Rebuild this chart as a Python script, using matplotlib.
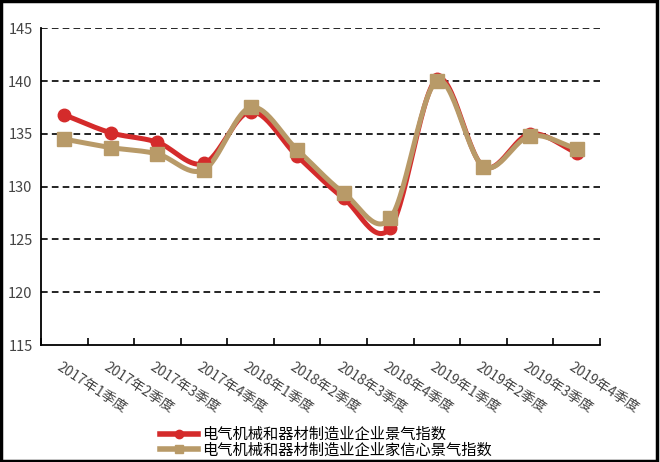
import numpy as np
import matplotlib.pyplot as plt
from matplotlib.lines import Line2D

plt.rcParams['font.family'] = ['Noto Sans CJK SC', 'DejaVu Sans']

quarters = ['2017年1季度', '2017年2季度', '2017年3季度', '2017年4季度',
            '2018年1季度', '2018年2季度', '2018年3季度', '2018年4季度',
            '2019年1季度', '2019年2季度', '2019年3季度', '2019年4季度']
climate = [136.8, 135.1, 134.2, 132.2, 137.1, 132.9, 128.9, 126.1, 140.2, 131.9, 135.0, 133.2]
confidence = [134.5, 133.7, 133.1, 131.6, 137.5, 133.5, 129.4, 127.0, 140.0, 131.9, 134.8, 133.6]
name_climate = '电气机械和器材制造业企业景气指数'
name_confidence = '电气机械和器材制造业企业家信心景气指数'

RED = '#D42B2B'
TAN = '#B89A68'


def smooth(x, y, n=30):
    # Catmull-Rom curve through the points, like Excel's smoothed lines
    x = np.asarray(x, float)
    y = np.asarray(y, float)
    px = np.concatenate([[2 * x[0] - x[1]], x, [2 * x[-1] - x[-2]]])
    py = np.concatenate([[2 * y[0] - y[1]], y, [2 * y[-1] - y[-2]]])
    xs, ys = [], []
    t = np.linspace(0, 1, n)
    for i in range(1, len(px) - 2):
        for p, out in ((px, xs), (py, ys)):
            p0, p1, p2, p3 = p[i - 1], p[i], p[i + 1], p[i + 2]
            out.extend(0.5 * (2 * p1 + (-p0 + p2) * t
                              + (2 * p0 - 5 * p1 + 4 * p2 - p3) * t ** 2
                              + (-p0 + 3 * p1 - 3 * p2 + p3) * t ** 3))
    return xs, ys


fig = plt.figure(figsize=(6.6, 4.62), dpi=100)
ax = fig.add_axes([0.062, 0.253, 0.847, 0.686])

x = np.arange(len(quarters))
for vals, color, marker, ms in ((climate, RED, 'o', 9), (confidence, TAN, 's', 10)):
    sx, sy = smooth(x, vals)
    ax.plot(sx, sy, color=color, lw=3.6, solid_capstyle='round', zorder=3)
    ax.plot(x, vals, linestyle='none', marker=marker, ms=ms, color=color, zorder=4)

ax.set_xlim(-0.5, len(quarters) - 0.5)
ax.set_ylim(115, 145)
ax.set_yticks(range(115, 146, 5))
for v in range(120, 146, 5):
    ax.axhline(v, color='black', lw=1.2, ls=(0, (4, 2.5)), zorder=1)

ax.set_xticks(np.arange(-0.5, len(quarters), 1))
ax.set_xticklabels([])
ax.tick_params(axis='x', direction='in', length=5, width=1.2)
ax.tick_params(axis='y', length=0, labelsize=10.5, labelcolor='#444444', pad=6)
for i, q in enumerate(quarters):
    ax.text(i - 0.13, 113.0, q, rotation=-33, rotation_mode='anchor',
            ha='left', va='center', fontsize=10, color='#444444')

for s in ('top', 'right'):
    ax.spines[s].set_visible(False)
for s in ('left', 'bottom'):
    ax.spines[s].set_linewidth(1.3)

handles = [Line2D([], [], color=RED, lw=4, marker='o', ms=6),
           Line2D([], [], color=TAN, lw=4, marker='s', ms=6)]
fig.legend(handles, [name_climate, name_confidence], loc='upper left',
           bbox_to_anchor=(0.242, 0.078), frameon=False, fontsize=11,
           handlelength=2.5, handletextpad=0.3, labelspacing=-0.1,
           borderpad=0, borderaxespad=0)

fig.patches.append(plt.Rectangle((0.002, 0.003), 0.994, 0.994, transform=fig.transFigure,
                                 fill=False, edgecolor='black', lw=2.5))

fig.savefig('out.png', dpi=100)
